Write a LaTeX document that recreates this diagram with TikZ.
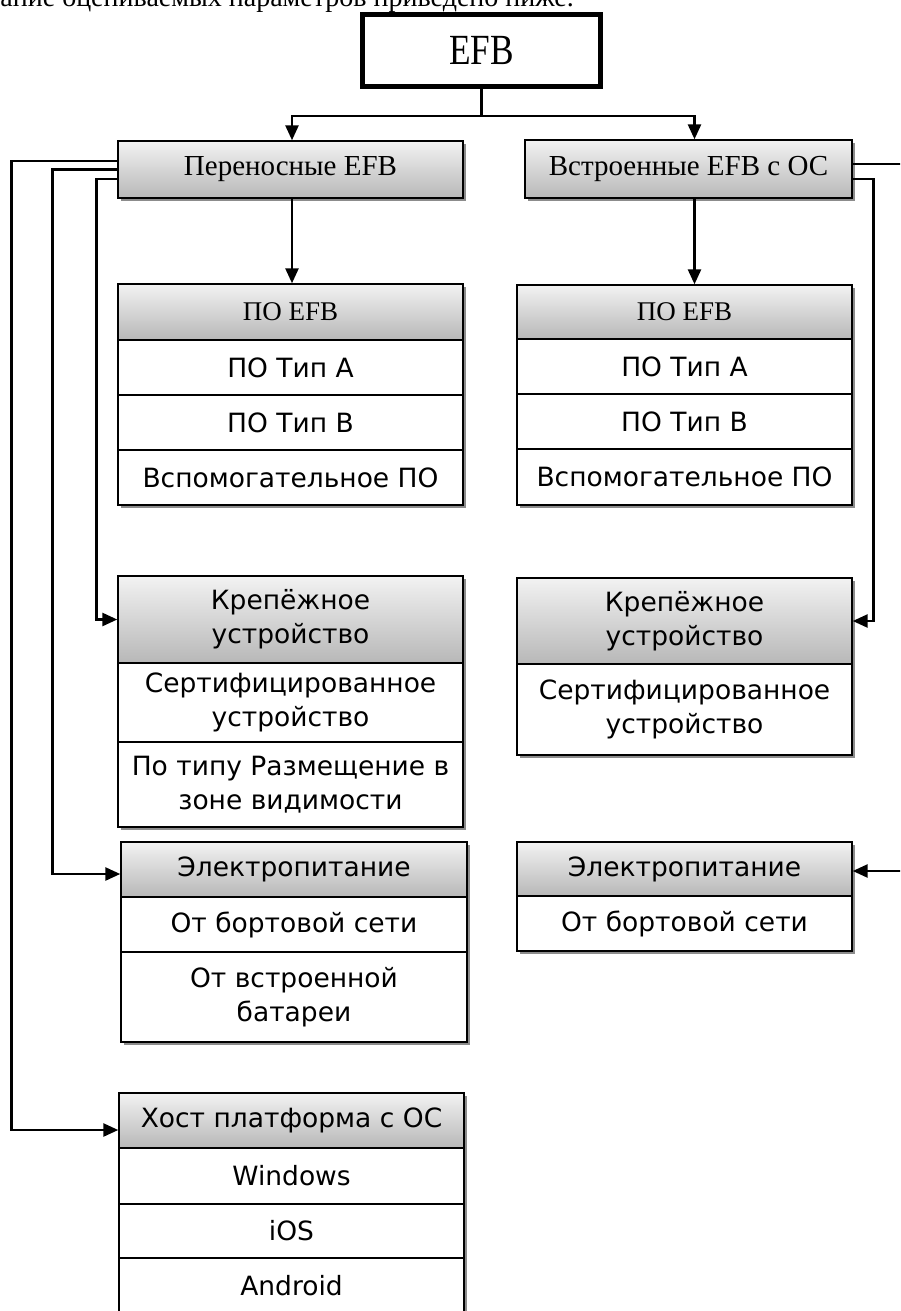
\documentclass[tikz,border=0pt]{standalone}
\usepackage{fontspec}
\setmainfont{Liberation Serif}
\newfontfamily\dvs{DejaVu Sans}
\usetikzlibrary{arrows.meta,calc}
\begin{document}
\begin{tikzpicture}[x=1pt,y=-1pt,
  cellbox/.style={draw=black, line width=1.4pt, fill=white, inner sep=0pt, align=center,
                  font=\dvs\fontsize{26.5}{34}\selectfont},
  hdrbox/.style={cellbox, top color=black!5, bottom color=black!28},
  serifhdr/.style={hdrbox, font=\fontsize{29}{34}\selectfont},
  shadowc/.style={fill=black!45},
  conn/.style={line width=2.6pt},
  arr/.style={conn, -{Triangle[length=15pt,width=13pt]}}]
\clip (0,0) rectangle (900,1311);
\fill[white] (0,0) rectangle (900,1311);

% cut-off text line at top
\node[anchor=base east, inner sep=0pt, font=\fontsize{28}{30}\selectfont] (toptext) at (574,7)
  {вание оцениваемых параметров приведено ниже.};

% shadows
\fill[shadowc] (121,144) rectangle (466,201);
\fill[shadowc] (528,143) rectangle (855,201);
\fill[shadowc] (121,287) rectangle (466,508);
\fill[shadowc] (520,288) rectangle (855,508);
\fill[shadowc] (121,579) rectangle (466,830);
\fill[shadowc] (520,581) rectangle (855,758);
\fill[shadowc] (124,845) rectangle (470,1045);
\fill[shadowc] (520,845) rectangle (855,954);
\fill[shadowc] (122,1096) rectangle (467,1320);

% root
\node[draw=black, line width=5pt, fill=white, minimum width=238pt, minimum height=72pt,
      inner sep=0pt, font=\fontsize{43}{46}\selectfont] (efb) at (481.5,50.5) {\scalebox{0.82}[1]{EFB}};

% level 1
\node[serifhdr, minimum width=345pt, minimum height=57pt] (pe) at (290.5,169.5) {Переносные EFB};
\node[serifhdr, minimum width=327pt, minimum height=58pt] (vs) at (688.5,169) {Встроенные EFB с ОС};

% left: ПО EFB
\node[hdrbox, font=\fontsize{27}{30}\selectfont, minimum width=345pt, minimum height=56pt] (lpoh) at (290.5,312) {ПО EFB};
\node[cellbox, minimum width=345pt, minimum height=55pt] (lpo1) at (290.5,367.5) {ПО Тип А};
\node[cellbox, minimum width=345pt, minimum height=55pt] (lpo2) at (290.5,422.5) {ПО Тип В};
\node[cellbox, minimum width=345pt, minimum height=55pt] (lpo3) at (290.5,477.5) {Вспомогательное ПО};

% right: ПО EFB
\node[hdrbox, font=\fontsize{27}{30}\selectfont, minimum width=335pt, minimum height=54pt] (rpoh) at (684.5,312) {ПО EFB};
\node[cellbox, minimum width=335pt, minimum height=55pt] (rpo1) at (684.5,366.5) {ПО Тип А};
\node[cellbox, minimum width=335pt, minimum height=55pt] (rpo2) at (684.5,421.5) {ПО Тип В};
\node[cellbox, minimum width=335pt, minimum height=56pt] (rpo3) at (684.5,477) {Вспомогательное ПО};

% left: Крепёжное устройство
\node[hdrbox, minimum width=345pt, minimum height=87pt] (lkrh) at (290.5,619.5) {Крепёжное\\устройство};
\node[cellbox, minimum width=345pt, minimum height=79pt] (lkr1) at (290.5,702.5) {Сертифицированное\\устройство};
\node[cellbox, minimum width=345pt, minimum height=85pt] (lkr2) at (290.5,784.5) {По типу Размещение в\\зоне видимости};

% right: Крепёжное устройство
\node[hdrbox, minimum width=335pt, minimum height=86pt] (rkrh) at (684.5,621) {Крепёжное\\устройство};
\node[cellbox, minimum width=335pt, minimum height=91pt] (rkr1) at (684.5,709.5) {Сертифицированное\\устройство};

% left: Электропитание
\node[hdrbox, minimum width=346pt, minimum height=55pt] (lelh) at (294,869.5) {Электропитание};
\node[cellbox, minimum width=346pt, minimum height=55pt] (lel1) at (294,924.5) {От бортовой сети};
\node[cellbox, minimum width=346pt, minimum height=90pt] (lel2) at (294,997) {От встроенной\\батареи};

% right: Электропитание
\node[hdrbox, minimum width=335pt, minimum height=54pt] (relh) at (684.5,869) {Электропитание};
\node[cellbox, minimum width=335pt, minimum height=55pt] (rel1) at (684.5,923.5) {От бортовой сети};

% left: Хост платформа
\node[hdrbox, minimum width=345pt, minimum height=55pt] (hosth) at (291.5,1120.5) {Хост платформа с ОС};
\node[cellbox, minimum width=345pt, minimum height=56pt] (host1) at (291.5,1176) {Windows};
\node[cellbox, minimum width=345pt, minimum height=54pt] (host2) at (291.5,1231) {iOS};
\node[cellbox, minimum width=345pt, minimum height=55pt] (host3) at (291.5,1285.5) {Android};

% connectors from root
\draw[conn] (efb.south) -- ++(0,27) coordinate (j);
\draw[arr] (j) -| ([xshift=1.5pt]pe.north);
\draw[arr] (j) -| ([xshift=6pt]vs.north);

% level 1 to ПО
\draw[arr] ([xshift=1.5pt]pe.south) -- ([xshift=1.5pt]lpoh.north);
\draw[arr] ([xshift=6pt]vs.south) -- ([xshift=6pt]vs.south |- rpoh.north);

% left side connectors
\draw[arr] ([yshift=8.5pt]pe.west) -- ++(-106,0) |- ([yshift=-9.5pt]hosth.west);
\draw[arr] (pe.west) -- ++(-65,0) |- ([yshift=-4.5pt]lelh.west);
\draw[arr] ([yshift=-9.5pt]pe.west) -- ++(-21,0) |- (lkrh.west);

% right side connectors
\draw[arr] ([yshift=5pt]vs.east) -- ++(70,0) |- ([yshift=-2pt]relh.east);
\draw[arr] ([yshift=-10pt]vs.east) -- ++(21,0) |- (rkrh.east);
\end{tikzpicture}
\end{document}
